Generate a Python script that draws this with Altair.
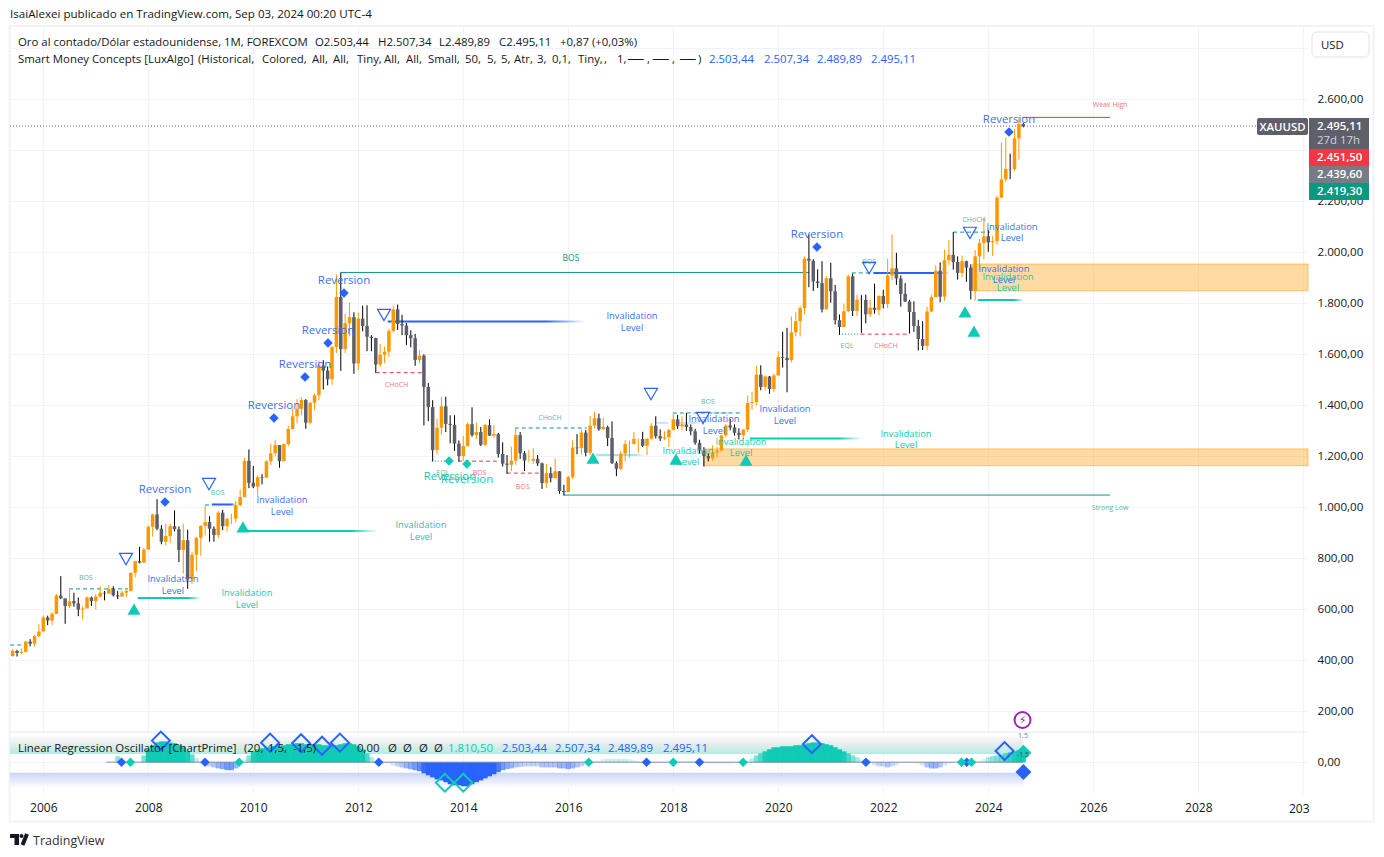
import altair as alt
import pandas as pd

FONT = "Open Sans"
BLUE = "#2962ff"
TEAL = "#0fcbb5"
GREEN = "#089981"
RED = "#f23645"
ORANGE = "#ff9800"
GREY = "#5d606b"
INK = "#131722"

START_YEAR, START_MONTH = 2005, 6
FIRST_OPEN = 417
CLOSES = [
    437, 429, 433, 473, 465, 495, 513,
    568, 556, 582, 654, 643, 613, 632, 623, 599, 603, 646, 632,
    650, 665, 662, 679, 655, 650, 665, 672, 743, 789, 783, 834,
    923, 972, 916, 865, 887, 926, 914, 833, 871, 718, 814, 880,
    927, 942, 916, 891, 979, 926, 954, 955, 1008, 1040, 1182, 1096,
    1081, 1118, 1116, 1180, 1212, 1244, 1181, 1248, 1307, 1357, 1386, 1421,
    1332, 1410, 1439, 1556, 1536, 1502, 1628, 1825, 1620, 1722, 1746, 1564,
    1740, 1711, 1669, 1664, 1560, 1598, 1610, 1692, 1776, 1719, 1713, 1675,
    1663, 1578, 1595, 1472, 1393, 1224, 1312, 1396, 1327, 1323, 1250, 1201,
    1240, 1326, 1283, 1295, 1245, 1322, 1281, 1287, 1209, 1171, 1167, 1183,
    1283, 1212, 1183, 1183, 1190, 1172, 1095, 1134, 1114, 1141, 1064, 1060,
    1118, 1234, 1232, 1293, 1214, 1320, 1349, 1306, 1315, 1272, 1173, 1151,
    1210, 1248, 1249, 1268, 1268, 1241, 1269, 1320, 1279, 1270, 1275, 1303,
    1345, 1318, 1325, 1315, 1298, 1253, 1223, 1201, 1192, 1215, 1222, 1282,
    1321, 1313, 1292, 1283, 1305, 1409, 1413, 1520, 1472, 1513, 1464, 1517,
    1589, 1586, 1577, 1686, 1730, 1781, 1975, 1967, 1886, 1879, 1776, 1898,
    1847, 1734, 1707, 1769, 1906, 1770, 1814, 1813, 1757, 1783, 1774, 1829,
    1797, 1909, 1937, 1897, 1837, 1807, 1766, 1711, 1660, 1633, 1768, 1824,
    1928, 1826, 1969, 1990, 1962, 1919, 1965, 1940, 1849, 1984, 2036, 2063,
    2039, 2044, 2214, 2286, 2327, 2326, 2447, 2503.44, 2495.11,
]
HIGHS = [
    443, 441, 447, 476, 483, 500, 541,
    576, 575, 590, 660, 730, 640, 677, 665, 646, 613, 650, 650,
    660, 690, 672, 695, 690, 672, 672, 680, 745, 790, 845, 840,
    930, 975, 1032, 930, 935, 935, 988, 925, 935, 912, 825, 885,
    930, 1005, 965, 925, 985, 990, 960, 975, 1025, 1070, 1195, 1227,
    1162, 1125, 1130, 1185, 1249, 1265, 1200, 1250, 1320, 1388, 1424, 1432,
    1424, 1412, 1447, 1575, 1577, 1552, 1632, 1912, 1921, 1760, 1803, 1765,
    1764, 1791, 1792, 1675, 1665, 1640, 1630, 1700, 1790, 1795, 1755, 1723,
    1694, 1680, 1617, 1600, 1487, 1420, 1347, 1433, 1434, 1361, 1361, 1262,
    1280, 1332, 1392, 1332, 1315, 1326, 1345, 1322, 1292, 1255, 1205, 1238,
    1307, 1295, 1220, 1225, 1232, 1205, 1175, 1170, 1157, 1192, 1142, 1088,
    1123, 1263, 1287, 1305, 1303, 1358, 1375, 1367, 1352, 1320, 1337, 1180,
    1220, 1263, 1262, 1295, 1270, 1296, 1270, 1330, 1357, 1306, 1298, 1307,
    1366, 1362, 1356, 1370, 1325, 1308, 1265, 1236, 1212, 1243, 1237, 1285,
    1326, 1347, 1325, 1310, 1305, 1439, 1453, 1555, 1557, 1517, 1515, 1525,
    1612, 1689, 1704, 1748, 1765, 1789, 1984, 2070, 1973, 1933, 1965, 1906,
    1959, 1872, 1756, 1798, 1912, 1916, 1834, 1832, 1834, 1813, 1877, 1831,
    1853, 1974, 2070, 1998, 1909, 1879, 1814, 1808, 1735, 1730, 1786, 1833,
    1949, 1960, 2010, 2048, 2079, 1984, 1987, 1967, 1953, 2009, 2052, 2135,
    2088, 2065, 2222, 2431, 2450, 2387, 2483, 2531, 2507.34,
]
LOWS = [
    414, 415, 425, 432, 455, 454, 490,
    513, 538, 538, 582, 640, 543, 605, 610, 573, 560, 615, 613,
    600, 645, 635, 660, 650, 640, 650, 648, 670, 725, 780, 783,
    834, 885, 910, 855, 850, 860, 905, 785, 740, 680, 700, 750,
    810, 890, 865, 865, 880, 910, 905, 935, 940, 1005, 1040, 1075,
    1075, 1045, 1090, 1115, 1165, 1200, 1155, 1180, 1240, 1315, 1330, 1360,
    1308, 1325, 1380, 1420, 1462, 1478, 1480, 1605, 1535, 1605, 1670, 1523,
    1537, 1690, 1612, 1612, 1527, 1550, 1565, 1590, 1685, 1695, 1675, 1636,
    1627, 1555, 1565, 1321, 1338, 1180, 1207, 1285, 1295, 1251, 1221, 1180,
    1182, 1240, 1277, 1268, 1240, 1241, 1280, 1273, 1195, 1160, 1131, 1142,
    1167, 1190, 1142, 1178, 1170, 1162, 1072, 1077, 1098, 1115, 1053, 1046,
    1060, 1110, 1208, 1207, 1200, 1205, 1310, 1300, 1305, 1240, 1170, 1122,
    1146, 1180, 1195, 1245, 1214, 1236, 1205, 1266, 1270, 1260, 1264, 1236,
    1302, 1307, 1303, 1300, 1282, 1245, 1211, 1160, 1180, 1183, 1196, 1221,
    1275, 1302, 1281, 1266, 1266, 1296, 1382, 1400, 1459, 1458, 1445, 1452,
    1517, 1548, 1451, 1568, 1670, 1670, 1757, 1863, 1848, 1860, 1764, 1776,
    1802, 1717, 1676, 1706, 1765, 1750, 1750, 1684, 1721, 1746, 1759, 1753,
    1780, 1781, 1890, 1872, 1787, 1805, 1681, 1688, 1615, 1617, 1616, 1765,
    1824, 1804, 1810, 1950, 1932, 1893, 1903, 1884, 1815, 1810, 1931, 1973,
    2002, 1985, 2030, 2265, 2277, 2287, 2319, 2364, 2489.89,
]

OSC_START_YEAR, OSC_START_MONTH = 2007, 6
OSC_VALUES = [
    24, 0, 0, 0, 0, 4, 27,
    51, 67, 78, 82, 82, 78, 75, 67, 59, 43, 31, 16,
    -4, -8, -16, -20, -24, -27, -31, -31, -24, -4, 12, 27,
    43, 51, 55, 59, 63, 63, 67, 67, 71, 71, 75, 75,
    71, 71, 71, 71, 67, 67, 67, 67, 71, 75, 75, 71,
    63, 51, 35, 20, 8, 0, -4, -8, -12, -16, -20, -24,
    -27, -31, -35, -43, -51, -59, -67, -71, -78, -86, -90, -90,
    -94, -94, -86, -78, -71, -63, -55, -47, -39, -31, -27, -24,
    -20, -18, -16, -16, -16, -16, -20, -20, -20, -20, -24, -24,
    -27, -24, -20, -16, -12, 0, 4, 8, 12, 14, 14, 14,
    14, 14, 12, 10, 6, 0, -3, -4, -4, -4, -3, -2,
    0, 4, 8, 8, 8, 4, 0, -3, -6, -8, -8, -8,
    -8, -6, -4, -3, 0, 8, 16, 27, 35, 43, 51, 59,
    59, 63, 63, 63, 67, 67, 71, 75, 78, 78, 75, 71,
    67, 59, 51, 43, 35, 27, 20, 12, 0, -4, -12, -16,
    -16, -20, -16, -12, -4, -4, 0, -4, -8, -12, -20, -24,
    -24, -20, -12, -8, -4, 0, 0, 0, 0, 0, 8, 12,
    20, 24, 27, 31, 35, 39, 43, 47, 47,
]

REV_BLUE_X = [2008.318, 2010.394, 2010.985, 2011.423, 2011.728, 2020.737, 2024.395]
REV_BLUE_LABEL_Y = [1072, 1401, 1562, 1695, 1891, 2072, 2523]
REV_BLUE_MARK_Y = [1021, 1350, 1511, 1644, 1840, 2021, 2472]
REV_TEAL_X = [2013.747, 2014.071]
REV_TEAL_LABEL_Y = [1123, 1111]
REV_TEAL_MARK_X = [2013.73, 2014.07]
REV_TEAL_MARK_Y = [1182, 1170]

INV_BLUE_X = [2008.470, 2010.547, 2017.214, 2018.776, 2020.128, 2024.452, 2024.299]
INV_BLUE_Y1 = [723, 1033, 1754, 1350, 1389, 2103, 1938]
INV_BLUE_Y2 = [676, 986, 1707, 1303, 1342, 2060, 1895]
INV_TEAL_X = [2009.880, 2013.194, 2018.280, 2019.290, 2022.433, 2024.376]
INV_TEAL_Y1 = [668, 934, 1225, 1260, 1291, 1907]
INV_TEAL_Y2 = [621, 887, 1182, 1217, 1248, 1864]

TRI_UP_X = [2007.728, 2009.804, 2016.471, 2018.052, 2019.385, 2023.556, 2023.728]
TRI_UP_Y = [601, 923, 1193, 1189, 1185, 1766, 1691]
TRI_DOWN_X = [2007.575, 2009.156, 2012.490, 2017.575, 2018.566, 2021.73, 2023.65]
TRI_DOWN_Y = [797, 1091, 1754, 1444, 1350, 1938, 2076]

LEVEL_X1 = [2011.67, 2015.92, 2024.64]
LEVEL_X2 = [2020.58, 2026.32, 2026.32]
LEVEL_Y = [1921, 1048, 2529]
LEVEL_COLOR = [GREEN, GREEN, RED]

DASH_X1 = [2005.37, 2006.49, 2009.08, 2014.98, 2017.99, 2021.40, 2023.33, 2012.33, 2013.90, 2014.83, 2021.57]
DASH_X2 = [2005.63, 2007.61, 2009.22, 2016.35, 2019.32, 2021.75, 2024.03, 2013.24, 2014.64, 2015.46, 2022.50]
DASH_Y = [460, 680, 1009, 1311, 1370, 1919, 2079, 1528, 1181, 1134, 1679]
DASH_COLOR = [GREEN] * 7 + [RED] * 4

EQL_X1 = [2013.40, 2021.16]
EQL_X2 = [2013.74, 2021.57]
EQL_Y = [1181, 1679]

STRUCT_LABELS = ["BOS", "BOS", "CHoCH", "CHoCH", "EQL", "BOS", "BOS", "BOS", "BOS",
                 "CHoCH", "EQL", "CHoCH", "Weak High", "Strong Low"]
STRUCT_X = [2006.81, 2009.32, 2012.73, 2015.65, 2013.61, 2014.31, 2015.13, 2018.66,
            2021.73, 2023.73, 2021.31, 2022.05, 2026.32, 2026.32]
STRUCT_Y = [727, 1060, 1484, 1354, 1138, 1138, 1084, 1417, 1966, 2131, 1636, 1636, 2582, 1001]
STRUCT_COLOR = [GREEN, GREEN, RED, GREEN, GREEN, RED, RED, GREEN, GREEN, GREEN, GREEN, RED, RED, GREEN]
TOP_BOS_X, TOP_BOS_Y = [2016.05], [1981]

TEAL_BAR_X1 = [2007.80, 2009.88, 2016.53, 2019.46, 2023.80]
TEAL_BAR_X2 = [2009.00, 2012.36, 2017.46, 2021.59, 2024.67]
TEAL_BAR_Y = [644, 907, 1205, 1270, 1813]
TEAL_BAR_ALPHA = [1, 1, 0.4, 1, 1]
BLUE_BAR_X1 = [2009.21, 2012.56, 2021.81, 2018.03, 2018.73, 2017.68]
BLUE_BAR_X2 = [2009.67, 2016.32, 2023.27, 2018.50, 2019.13, 2017.93]
BLUE_BAR_Y = [1011, 1729, 1919, 1331, 1370, 1331]
BLUE_BAR_ALPHA = [1, 1, 1, 0.2, 0.2, 0.2]

ZONE_X1 = [2018.58, 2023.70]
ZONE_X2 = [2030.09, 2030.09]
ZONE_TOP = [1229, 1954]
ZONE_BOTTOM = [1163, 1849]

SMALL_DIAMOND_BLUE_X = [2007.49, 2009.08, 2012.39, 2017.49, 2018.50, 2021.67, 2023.59]
SMALL_DIAMOND_TEAL_X = [2007.66, 2009.73, 2016.39, 2018.00, 2019.33, 2023.49, 2023.68]
HOLLOW_BLUE_X = [2008.24, 2010.32, 2010.91, 2011.31, 2011.65, 2020.64, 2024.31]
HOLLOW_BLUE_Y = [85, 77, 75, 65, 77, 71, 44]
HOLLOW_TEAL_X = [2013.65, 2014.0]
HOLLOW_TEAL_Y = [-80, -80]

X_TICKS = list(range(2006, 2032, 2))
Y_TICKS = list(range(0, 3000, 200))
X_DOMAIN = [2005.366, 2030.09]
Y_DOMAIN = [-120.4, 2883.5]

W, H = 1298, 766
OX, OY = 10, 27
LEGEND_SIZE = 11.4

rows = []
prev = FIRST_OPEN
for i, (c, h, l) in enumerate(zip(CLOSES, HIGHS, LOWS)):
    m = START_YEAR * 12 + START_MONTH - 1 + i
    o = 2503.44 if i == len(CLOSES) - 1 else prev
    up = c >= o
    rows.append(dict(yr=m / 12, o=o, h=h, l=l, c=c,
                     body=ORANGE if up else GREY,
                     wick=ORANGE if up else "#000000"))
    prev = c
candles = pd.DataFrame(rows)

osc = pd.DataFrame(dict(
    yr=[(OSC_START_YEAR * 12 + OSC_START_MONTH - 1 + i) / 12 for i in range(len(OSC_VALUES))],
    v=OSC_VALUES,
    a=[abs(v) for v in OSC_VALUES],
    col=[TEAL if v >= 0 else BLUE for v in OSC_VALUES],
    zero=[0] * len(OSC_VALUES),
))

xs = alt.Scale(domain=X_DOMAIN, nice=False, zero=False, padding=0)
ys = alt.Scale(domain=Y_DOMAIN, nice=False, zero=False, padding=0)

fr = "replace(replace(replace(format(datum.value,',.2f'),',','#'),'.',','),'#','.')"
X_AXIS = alt.Axis(
    values=X_TICKS, grid=True, gridColor="#f0f3fa", domain=False, ticks=False, title=None,
    labelExpr="datum.value==2030 ? '' : format(datum.value,'d')",
    labelFont=FONT, labelFontSize=12, labelColor=INK, labelPadding=9, labelFlush=False)
Y_AXIS = alt.Axis(
    orient="right", values=Y_TICKS, grid=True, gridColor="#f0f3fa", domain=False, ticks=False,
    title=None, labelExpr=f"datum.value==2800 ? '' : {fr}",
    labelFont=FONT, labelFontSize=11.6, labelColor=INK, labelPadding=9, labelAlign="left",
    labelFlush=False)


def X(f="x"):
    return alt.X(f"{f}:Q", scale=xs, axis=X_AXIS)


def Y(f="y"):
    return alt.Y(f"{f}:Q", scale=ys, axis=Y_AXIS)


def data_text(x, y, labels, color, size, **kw):
    df = pd.DataFrame(dict(x=x, y=y, t=labels))
    enc = dict(x=X(), y=Y(), text="t:N")
    if isinstance(color, list):
        df["col"] = color
        enc["color"] = alt.Color("col:N", scale=None)
        return alt.Chart(df).mark_text(font=FONT, fontSize=size, dy=1, **kw).encode(**enc)
    return alt.Chart(df).mark_text(font=FONT, fontSize=size, color=color, dy=1, **kw).encode(**enc)


def points(x, y, shape, color, size, filled=True, sw=1.5):
    df = pd.DataFrame(dict(x=x, y=y))
    m = alt.Chart(df).mark_point(shape=shape, size=size, filled=filled, color=color,
                                 opacity=1, strokeWidth=sw if not filled else 0)
    return m.encode(x=X(), y=Y())


def chrome_text(px, py, text, color=INK, size=LEGEND_SIZE, align="left", font=FONT, **kw):
    return alt.Chart(pd.DataFrame(dict(t=[text]))).mark_text(
        font=font, fontSize=size, color=color, align=align, baseline="middle", dy=0.5, **kw
    ).encode(x=alt.value(px - OX), y=alt.value(py - OY), text="t:N")


def chrome_rect(x1, y1, x2, y2, **kw):
    return alt.Chart(pd.DataFrame(dict(a=[0]))).mark_rect(**kw).encode(
        x=alt.value(x1 - OX), x2=alt.value(x2 - OX),
        y=alt.value(y1 - OY), y2=alt.value(y2 - OY))


layers = []

# frame and pane separator
layers.append(chrome_rect(9.5, 26, 1373.5, 821.5, fillOpacity=0, stroke="#f0f3fa", strokeWidth=2))
layers.append(chrome_rect(10, 731.5, 1308, 732.5, fill="#e6e8f4"))

# supply / demand zones
zones = pd.DataFrame(dict(x=ZONE_X1, x2=ZONE_X2, y=ZONE_TOP, y2=ZONE_BOTTOM))
layers.append(alt.Chart(zones).mark_rect(fill=ORANGE, fillOpacity=0.36, stroke=ORANGE, strokeOpacity=0.5, strokeWidth=1)
              .encode(x=X(), x2="x2:Q", y=Y(), y2="y2:Q"))

# price line
layers.append(alt.Chart(pd.DataFrame(dict(x=[X_DOMAIN[0]], x2=[2029.14], y=[2495])))
              .mark_rule(color=GREY, strokeDash=[1, 2], strokeWidth=1)
              .encode(x=X(), x2="x2:Q", y=Y()))

# structure levels
levels = pd.DataFrame(dict(x=LEVEL_X1, x2=LEVEL_X2, y=LEVEL_Y, col=LEVEL_COLOR))
layers.append(alt.Chart(levels).mark_rule(strokeWidth=1).encode(
    x=X(), x2="x2:Q", y=Y(), color=alt.Color("col:N", scale=None)))
dashes = pd.DataFrame(dict(x=DASH_X1, x2=DASH_X2, y=DASH_Y, col=DASH_COLOR))
layers.append(alt.Chart(dashes).mark_rule(strokeWidth=1, strokeDash=[4, 3]).encode(
    x=X(), x2="x2:Q", y=Y(), color=alt.Color("col:N", scale=None)))
eql = pd.DataFrame(dict(x=EQL_X1, x2=EQL_X2, y=EQL_Y))
layers.append(alt.Chart(eql).mark_rule(strokeWidth=1, strokeDash=[1, 2], color=GREEN).encode(
    x=X(), x2="x2:Q", y=Y()))


def fade(color):
    return alt.LinearGradient(gradient="linear", x1=0, x2=1, y1=0, y2=0, stops=[
        alt.GradientStop(offset=0, color=color),
        alt.GradientStop(offset=0.8, color=color),
        alt.GradientStop(offset=1, color="#ffffff"),
    ])


for bx1, bx2, by, ba, bc in [(TEAL_BAR_X1, TEAL_BAR_X2, TEAL_BAR_Y, TEAL_BAR_ALPHA, TEAL),
                             (BLUE_BAR_X1, BLUE_BAR_X2, BLUE_BAR_Y, BLUE_BAR_ALPHA, BLUE)]:
    df = pd.DataFrame(dict(x=bx1, x2=bx2, y=[v + 4 for v in by], y2=[v - 4 for v in by], a=ba))
    layers.append(alt.Chart(df).mark_rect(fill=fade(bc)).encode(
        x=X(), x2="x2:Q", y=Y(), y2="y2:Q", opacity=alt.Opacity("a:Q", scale=None)))

# candles
layers.append(alt.Chart(candles).mark_rule(strokeWidth=1).encode(
    x=X("yr"), y=Y("l"), y2="h:Q", color=alt.Color("wick:N", scale=None)))
layers.append(alt.Chart(candles).mark_bar(size=3.5).encode(
    x=X("yr"), y=Y("o"), y2="c:Q", color=alt.Color("body:N", scale=None)))

# oscillator bands
band_t = alt.LinearGradient(gradient="linear", x1=0, x2=0, y1=0, y2=1, stops=[
    alt.GradientStop(offset=0, color="#ffffff"),
    alt.GradientStop(offset=0.45, color="#e9eeed"),
    alt.GradientStop(offset=1, color="#b5ebe2"),
])
band_b = alt.LinearGradient(gradient="linear", x1=0, x2=0, y1=0, y2=1, stops=[
    alt.GradientStop(offset=0, color="#c9d4f5"),
    alt.GradientStop(offset=1, color="#ffffff"),
])
layers.append(alt.Chart(pd.DataFrame(dict(x=[X_DOMAIN[0]], x2=[2024.67], y=[110], y2=[33])))
              .mark_rect(fill=band_t).encode(x=X(), x2="x2:Q", y=Y(), y2="y2:Q"))
layers.append(alt.Chart(pd.DataFrame(dict(x=[X_DOMAIN[0]], x2=[2024.67], y=[-41], y2=[-101])))
              .mark_rect(fill=band_b).encode(x=X(), x2="x2:Q", y=Y(), y2="y2:Q"))

layers.append(alt.Chart(osc).mark_bar(size=5).encode(
    x=X("yr"), y=Y("zero"), y2="v:Q", color=alt.Color("col:N", scale=None),
    opacity=alt.Opacity("a:Q", scale=alt.Scale(domain=[8, 45], range=[0.08, 1], clamp=True), legend=None)))
layers.append(alt.Chart(pd.DataFrame(dict(x=[2007.2], x2=[2024.67], y=[0])))
              .mark_rule(color="#787b86", opacity=0.55, strokeWidth=1.5)
              .encode(x=X(), x2="x2:Q", y=Y()))

# oscillator markers
layers.append(points(SMALL_DIAMOND_BLUE_X, [0] * 7, "diamond", BLUE, 90))
layers.append(points(SMALL_DIAMOND_TEAL_X, [0] * 7, "diamond", TEAL, 90))
layers.append(points(HOLLOW_BLUE_X, HOLLOW_BLUE_Y, "diamond", BLUE, 324, filled=False, sw=2))
layers.append(points(HOLLOW_TEAL_X, HOLLOW_TEAL_Y, "diamond", TEAL, 324, filled=False, sw=2))
layers.append(points([2024.67], [37], "diamond", TEAL, 256))
layers.append(points([2024.67], [-38], "diamond", BLUE, 256))

# main pane markers
layers.append(points(REV_BLUE_X, REV_BLUE_MARK_Y, "diamond", BLUE, 90))
layers.append(points(REV_TEAL_MARK_X, REV_TEAL_MARK_Y, "diamond", TEAL, 90))
layers.append(points(TRI_UP_X, TRI_UP_Y, "triangle-up", TEAL, 170))
layers.append(points(TRI_DOWN_X, TRI_DOWN_Y, "triangle-down", BLUE, 170, filled=False, sw=1.2))

# annotations
layers.append(data_text(REV_BLUE_X, REV_BLUE_LABEL_Y, ["Reversion"] * 7, "#3d6ff5", 11.4))
layers.append(data_text(REV_TEAL_X, REV_TEAL_LABEL_Y, ["Reversion"] * 2, "#17c9b2", 11.4))
layers.append(data_text(INV_BLUE_X, INV_BLUE_Y1, ["Invalidation"] * 7, "#3d6ff5", 9.4))
layers.append(data_text(INV_BLUE_X, INV_BLUE_Y2, ["Level"] * 7, "#3d6ff5", 9.4))
layers.append(data_text(INV_TEAL_X, INV_TEAL_Y1, ["Invalidation"] * 6, "#17c9b2", 9.4))
layers.append(data_text(INV_TEAL_X, INV_TEAL_Y2, ["Level"] * 6, "#17c9b2", 9.4))
layers.append(data_text(STRUCT_X, STRUCT_Y, STRUCT_LABELS, STRUCT_COLOR, 7, opacity=0.7))
layers.append(data_text(TOP_BOS_X, TOP_BOS_Y, ["BOS"], GREEN, 8.5))

# header and legends
layers.append(chrome_text(10, 14, "IsaiAlexei publicado en TradingView.com, Sep 03, 2024 00:20 UTC-4", size=11.6))
layers.append(chrome_text(18, 42, "Oro al contado/Dólar estadounidense, 1M, FOREXCOM"))
for px, t in [(315, "O2.503,44"), (378, "H2.507,34"), (439, "L2.489,89"), (499, "C2.495,11"), (560, "+0,87 (+0,03%)")]:
    layers.append(chrome_text(px, 42, t))
layers.append(chrome_text(18, 59, "Smart Money Concepts [LuxAlgo]"))
for px, t in [(198, "(Historical,"), (262, "Colored,"), (312, "All,"), (333, "All,"), (357, "Tiny,"),
              (384, "All,"), (406, "All,"), (428, "Small,"), (465, "50,"), (487, "5,"), (501, "5,"),
              (514, "Atr,"), (537, "3,"), (552, "0,1,"), (578, "Tiny,"), (604, ","), (617, "1,")]:
    layers.append(chrome_text(px, 59, t))
for px, t in [(628, "──"), (653, "──"), (680, "──")]:
    layers.append(chrome_text(px, 59, t, size=13, font="DejaVu Sans"))
for px, t in [(647, ","), (672, ","), (698, ")")]:
    layers.append(chrome_text(px, 59, t))
for px, t in [(709, "2.503,44"), (764, "2.507,34"), (817, "2.489,89"), (871, "2.495,11")]:
    layers.append(chrome_text(px, 59, t, color=BLUE))
layers.append(chrome_text(18, 748, "Linear Regression Oscillator [ChartPrime]"))
for px, t in [(244, "(20,"), (268, "1,5,"), (293, "-1,5)")]:
    layers.append(chrome_text(px, 748, t))
layers.append(chrome_text(357, 748, "0,00"))
for px in (388, 403, 419, 434):
    layers.append(chrome_text(px, 748, "Ø"))
layers.append(chrome_text(448, 748, "1.810,50", color=TEAL))
for px, t in [(502, "2.503,44"), (555, "2.507,34"), (608, "2.489,89"), (663, "2.495,11")]:
    layers.append(chrome_text(px, 748, t, color=BLUE))

# right scale chips
layers.append(chrome_rect(1312, 32, 1369, 57, fill="#ffffff", stroke="#e0e3eb", strokeWidth=1, cornerRadius=4))
layers.append(chrome_text(1321, 45, "USD"))
layers.append(chrome_rect(1257, 118, 1308, 135, fill=GREY, cornerRadius=2))
layers.append(chrome_text(1282.5, 127, "XAUUSD", color="#ffffff", align="center", fontWeight=600))
layers.append(chrome_rect(1309, 118, 1369, 149, fill=GREY))
layers.append(chrome_text(1317, 126, "2.495,11", color="#ffffff", fontWeight=600))
layers.append(chrome_text(1317, 140, "27d 17h", color="#d1d4dc"))
layers.append(chrome_rect(1309, 149, 1369, 166, fill=RED))
layers.append(chrome_text(1317, 157, "2.451,50", color="#ffffff", fontWeight=600))
layers.append(chrome_rect(1309, 166, 1369, 183, fill="#787b86"))
layers.append(chrome_text(1317, 174, "2.439,60", color="#ffffff", fontWeight=600))
layers.append(chrome_rect(1309, 183, 1369, 200, fill=GREEN))
layers.append(chrome_text(1317, 191, "2.419,30", color="#ffffff", fontWeight=600))

# axis remainder, event badge
layers.append(chrome_text(1289, 808, "203", size=12))
layers.append(alt.Chart(pd.DataFrame(dict(a=[0]))).mark_point(shape="circle", size=254, color="#9c27b0", strokeWidth=2, opacity=1)
              .encode(x=alt.value(1022.5 - OX), y=alt.value(720 - OY)))
layers.append(chrome_text(1022.5, 720, "⚡", color="#9c27b0", size=11, align="center", font="DejaVu Sans"))
layers.append(chrome_text(1023, 735, "1.5", color="#787b86", size=7, align="center"))
layers.append(chrome_text(1023, 754, "-1.5", color="#4a4e5a", size=7, align="center"))

# watermark
layers.append(chrome_rect(10, 834, 19, 838, fill=INK))
layers.append(chrome_rect(14.5, 838, 19, 845, fill=INK))
layers.append(alt.Chart(pd.DataFrame(dict(a=[0]))).mark_point(shape="circle", size=16, color=INK, filled=True, opacity=1)
              .encode(x=alt.value(21.5 - OX), y=alt.value(836 - OY)))
layers.append(alt.Chart(pd.DataFrame(dict(a=[0]))).mark_rule(color=INK, strokeWidth=4)
              .encode(x=alt.value(27 - OX), x2=alt.value(22.5 - OX), y=alt.value(834 - OY), y2=alt.value(845 - OY)))
layers.append(chrome_text(33, 840, "TradingView", color="#333", size=12.5))

chart = alt.layer(*layers).properties(
    width=W, height=H,
    autosize=alt.AutoSizeParams(type="none"),
    padding={"left": 2, "top": 19, "right": 68, "bottom": 56},
).configure_view(stroke=None)

chart.save("out.html", embed_options={"renderer": "svg", "actions": False})
